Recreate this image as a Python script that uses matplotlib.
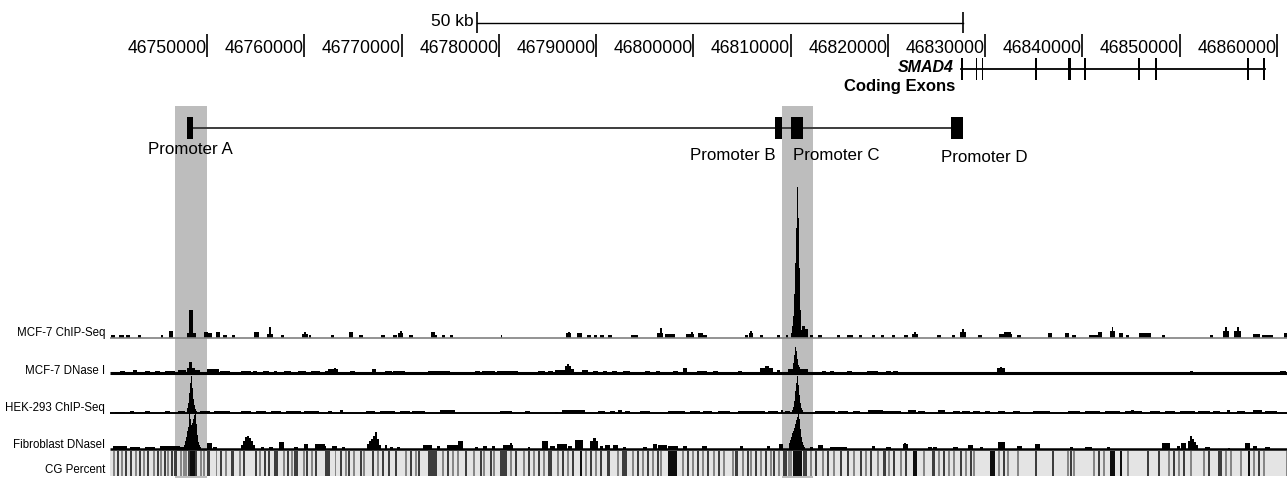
import matplotlib
matplotlib.use('Agg')
import matplotlib.pyplot as plt
from matplotlib.patches import Rectangle

plt.rcParams['font.family'] = ['Liberation Sans', 'DejaVu Sans']

# ---------------- data (positions in kb) ----------------
REGION_START = 46740.0
REGION_END = 46861.03

tick_kb = [46750, 46760, 46770, 46780, 46790, 46800, 46810, 46820, 46830, 46840, 46850, 46860]
tick_labels = ['46750000', '46760000', '46770000', '46780000', '46790000', '46800000',
               '46810000', '46820000', '46830000', '46840000', '46850000', '46860000']

scale_bar_start = 46777.74
scale_bar_length = 50
scale_bar_label = '50 kb'

gene_name = 'SMAD4'
gene_track_label = 'Coding Exons'
exon_starts = [46827.55, 46829.0, 46829.62, 46835.1, 46838.46, 46838.66, 46840.2,
               46845.7, 46847.5, 46856.96, 46858.55]
exon_widths = [0.2, 0.14, 0.14, 0.24, 0.12, 0.12, 0.14, 0.26, 0.14, 0.14, 0.26]

promoter_names = ['Promoter A', 'Promoter B', 'Promoter C', 'Promoter D']
promoter_starts = [46747.92, 46808.38, 46810.03, 46826.48]
promoter_ends = [46748.53, 46809.10, 46811.26, 46827.71]
promoter_label_x = [46748.23, 46804.0, 46814.66, 46829.9]

highlight_regions = [(46746.68, 46749.97), (46809.10, 46812.29)]

track_names = ['MCF-7 ChIP-Seq', 'MCF-7 DNase I', 'HEK-293 ChIP-Seq', 'Fibroblast DNaseI']

# signal tracks: (offset from REGION_START in kb, width in kb, signal height)
mcf7_chip = [
    (0.1, 0.4, 3), (0.93, 0.52, 3), (1.65, 0.41, 3), (2.89, 0.31, 3), (5.27, 0.2, 3), (6.1, 0.41, 7),
    (7.95, 0.93, 5), (8.16, 0.41, 28), (9.71, 0.41, 6), (10.12, 0.41, 5), (10.95, 0.31, 6),
    (11.67, 0.31, 3), (12.5, 0.31, 3), (14.77, 0.52, 6), (16.12, 0.62, 4), (16.33, 0.2, 11),
    (17.56, 0.31, 3), (19.73, 0.62, 4), (19.94, 0.2, 6), (20.51, 0.2, 3), (22.68, 0.31, 3),
    (24.54, 0.41, 6), (25.57, 0.41, 3), (27.85, 0.41, 3), (29.09, 0.41, 3), (29.6, 0.52, 5),
    (29.81, 0.2, 7), (30.74, 0.41, 3), (33.01, 0.41, 6), (33.42, 0.2, 3), (34.15, 0.31, 3),
    (34.97, 0.31, 3), (40.16, 0.2, 3), (46.88, 0.52, 5), (47.07, 0.2, 6), (48.01, 0.52, 5),
    (49.05, 0.41, 3), (49.77, 0.31, 3), (50.39, 0.41, 3), (51.22, 0.41, 3), (53.59, 0.72, 3),
    (56.28, 0.62, 5), (56.57, 0.15, 10), (57.1, 1.03, 4), (59.27, 0.83, 4), (59.77, 0.2, 6),
    (60.42, 0.52, 5), (60.94, 0.41, 3), (65.28, 0.31, 3), (65.68, 0.41, 5), (65.78, 0.2, 7),
    (66.83, 0.31, 3), (68.58, 0.31, 3), (69.51, 0.2, 3),
    (70.03, 0.105, 5), (70.13, 0.105, 12), (70.24, 0.105, 22), (70.34, 0.105, 44),
    (70.44, 0.105, 75), (70.55, 0.105, 110), (70.65, 0.105, 151), (70.75, 0.105, 120),
    (70.86, 0.105, 70), (70.96, 0.105, 28), (71.06, 0.105, 8),
    (71.17, 0.31, 12), (71.48, 0.31, 9), (71.99, 0.31, 3), (72.82, 0.41, 3), (74.78, 0.31, 3),
    (75.82, 0.62, 3), (77.06, 0.31, 3), (78.4, 0.31, 3), (79.33, 0.31, 3), (80.37, 0.31, 3),
    (81.6, 0.41, 3), (82.43, 0.62, 4), (82.63, 0.2, 6), (85.01, 0.41, 3), (86.56, 0.31, 3),
    (87.39, 0.62, 6), (87.58, 0.2, 9), (89.25, 0.41, 3), (91.42, 1.34, 4), (91.98, 0.62, 6),
    (93.28, 0.41, 3), (96.48, 0.41, 5), (98.24, 0.41, 5), (98.96, 0.41, 3), (100.63, 0.93, 3),
    (101.56, 0.41, 6), (102.8, 0.52, 7), (102.99, 0.15, 11), (103.73, 0.41, 5), (104.45, 0.31, 3),
    (105.79, 1.24, 5), (108.17, 0.31, 3), (113.13, 0.31, 3), (114.47, 0.62, 7), (114.69, 0.2, 11),
    (115.61, 0.72, 7), (115.89, 0.2, 11), (117.57, 0.72, 4), (118.5, 1.1, 3), (120.77, 0.3, 5),
]

mcf7_dnase = [
    (1.03, 0.52, 2), (2.38, 0.41, 3), (3.62, 0.52, 2), (4.65, 0.52, 2), (5.68, 1.03, 2),
    (7.02, 0.83, 3), (7.95, 0.83, 5), (8.16, 0.31, 11), (8.78, 0.52, 3), (10.02, 1.14, 4),
    (11.36, 1.03, 2), (13.43, 1.03, 2), (14.67, 0.41, 2), (15.7, 0.62, 2), (16.84, 0.31, 2),
    (17.87, 0.72, 2), (19.32, 0.83, 2), (20.72, 0.83, 2), (22.06, 0.52, 2), (22.37, 1.03, 4),
    (22.99, 0.2, 5), (24.64, 0.52, 2), (26.92, 0.41, 4), (28.26, 0.72, 2), (29.09, 1.24, 2),
    (32.7, 1.24, 2), (33.94, 1.03, 2), (37.56, 0.52, 2), (38.28, 1.34, 2), (39.83, 2.17, 2),
    (43.99, 0.72, 2), (45.02, 0.52, 2), (45.74, 1.03, 3), (46.77, 0.62, 7), (46.98, 0.2, 9),
    (47.4, 0.31, 4), (48.53, 0.62, 3), (49.67, 0.52, 2), (50.7, 0.41, 2), (51.63, 0.52, 2),
    (52.77, 0.72, 2), (55.04, 0.52, 2), (56.18, 0.41, 2), (57.93, 0.52, 2), (58.97, 0.41, 5),
    (60.32, 1.03, 2), (61.98, 0.52, 2), (64.56, 0.41, 2), (66.83, 1.34, 5), (67.35, 0.41, 7),
    (68.58, 0.31, 3), (69.72, 2.07, 4),
    (70.24, 0.105, 10), (70.34, 0.105, 18), (70.44, 0.105, 26), (70.55, 0.105, 22),
    (70.65, 0.105, 14), (70.75, 0.105, 8), (70.86, 0.105, 6),
    (73.24, 0.41, 2), (74.06, 0.41, 2), (75.82, 0.52, 2), (77.88, 1.14, 2), (79.75, 0.52, 2),
    (80.47, 0.52, 2), (91.21, 0.83, 5), (91.52, 0.2, 6), (107.34, 0.2, 1), (111.06, 0.31, 2),
    (111.59, 0.2, 1), (112.49, 0.2, 1), (115.69, 0.2, 1), (116.74, 0.2, 1), (117.69, 0.2, 1),
    (119.74, 0.31, 1), (120.36, 0.52, 2),
]

hek293_chip = [
    (0.52, 1.03, 1), (2.07, 0.4, 2), (3.62, 0.52, 2), (5.68, 0.52, 2), (7.02, 0.72, 2),
    (7.95, 0.105, 5), (8.06, 0.105, 10), (8.16, 0.105, 20), (8.26, 0.105, 30), (8.37, 0.105, 37),
    (8.47, 0.105, 25), (8.57, 0.105, 14), (8.68, 0.105, 8), (8.78, 0.105, 4), (8.88, 0.105, 2),
    (9.3, 1.03, 2), (10.74, 1.65, 2), (13.43, 1.03, 2), (14.98, 1.03, 2), (16.53, 1.03, 2),
    (18.08, 1.55, 2), (19.99, 1.55, 2), (22.37, 0.41, 2), (23.61, 0.3, 3), (26.3, 0.93, 2),
    (27.74, 1.55, 2), (29.81, 1.03, 2), (31.05, 1.34, 2), (33.94, 1.55, 3), (40.06, 1.24, 2),
    (42.64, 0.52, 2), (45.74, 0.3, 1), (46.47, 2.38, 3), (50.18, 0.72, 2), (51.42, 0.52, 2),
    (52.25, 0.41, 3), (52.97, 0.52, 2), (54.52, 1.03, 2), (57.41, 1.76, 2), (59.69, 1.03, 2),
    (60.94, 0.93, 2), (62.49, 1.24, 2), (64.56, 2.79, 2), (67.66, 1.03, 2), (69.0, 0.2, 3),
    (69.41, 0.52, 2),
    (70.13, 0.105, 3), (70.24, 0.105, 6), (70.34, 0.105, 12), (70.44, 0.105, 22), (70.55, 0.105, 30),
    (70.65, 0.105, 37), (70.75, 0.105, 28), (70.86, 0.105, 18), (70.96, 0.105, 10), (71.06, 0.105, 5),
    (71.17, 0.105, 3), (71.27, 0.105, 1),
    (72.51, 2.07, 2), (74.88, 1.03, 2), (76.44, 0.72, 2), (77.99, 1.24, 3), (79.44, 1.86, 2),
    (79.33, 0.2, 3), (82.02, 0.83, 3), (83.05, 0.72, 2), (85.12, 0.72, 3), (86.67, 0.72, 2),
    (87.6, 0.83, 2), (88.74, 0.72, 2), (89.98, 0.52, 2), (91.32, 0.72, 2), (92.87, 0.72, 2),
    (94.93, 1.76, 2), (98.55, 1.24, 2), (100.22, 1.55, 2), (102.28, 1.55, 2), (104.35, 1.76, 2),
    (104.99, 0.3, 3), (106.93, 1.03, 2), (108.48, 1.03, 2), (110.03, 1.55, 2), (111.89, 1.24, 2),
    (113.44, 0.72, 2), (114.89, 0.31, 3), (115.92, 0.83, 2), (117.57, 0.93, 3), (118.81, 1.24, 2),
]

fibroblast_dnase = [
    (0.31, 1.45, 3), (2.07, 1.03, 2), (3.62, 1.03, 2), (5.17, 1.24, 3), (6.4, 0.83, 3), (7.23, 0.41, 2),
    (7.64, 0.105, 4), (7.75, 0.105, 8), (7.85, 0.105, 12), (7.95, 0.105, 18), (8.06, 0.105, 22),
    (8.16, 0.105, 36), (8.26, 0.105, 30), (8.37, 0.105, 24), (8.47, 0.105, 26), (8.57, 0.105, 30),
    (8.68, 0.105, 34), (8.78, 0.105, 36), (8.88, 0.105, 25), (8.99, 0.105, 14), (9.09, 0.105, 7),
    (9.2, 0.105, 4), (9.3, 0.105, 2),
    (10.02, 0.52, 6), (10.64, 0.41, 2),
    (13.43, 0.21, 4), (13.64, 0.21, 8), (13.84, 0.21, 12), (14.05, 0.21, 13), (14.26, 0.21, 11),
    (14.46, 0.21, 8), (14.67, 0.21, 4),
    (15.5, 0.31, 2), (16.32, 0.41, 2), (17.36, 0.52, 7), (18.91, 0.41, 2), (19.94, 0.41, 5),
    (21.03, 1.03, 5), (22.06, 0.2, 3), (22.78, 0.52, 3), (23.82, 0.31, 2),
    (26.4, 0.21, 5), (26.61, 0.21, 8), (26.81, 0.21, 10), (27.02, 0.21, 13), (27.23, 0.21, 17),
    (27.43, 0.21, 10), (27.64, 0.21, 4),
    (28.26, 0.2, 4), (28.78, 0.31, 2), (29.5, 0.31, 2), (32.19, 0.93, 4), (33.63, 0.31, 3),
    (34.67, 1.14, 4), (35.8, 0.52, 8), (37.56, 0.31, 2), (38.38, 0.41, 3), (39.31, 0.31, 3),
    (40.37, 1.03, 4), (41.09, 0.2, 6), (42.95, 0.2, 2), (44.4, 0.62, 8), (45.22, 0.52, 3),
    (45.95, 1.03, 5), (47.08, 0.41, 3), (47.8, 0.83, 9), (49.36, 0.83, 8), (49.67, 0.3, 11),
    (50.39, 0.31, 3), (50.91, 0.52, 4), (51.73, 0.52, 4), (52.77, 0.31, 2), (54.83, 0.41, 2),
    (55.87, 0.41, 5), (56.38, 0.93, 4), (57.41, 1.03, 3), (58.97, 0.41, 3), (60.84, 0.52, 3),
    (64.76, 0.31, 3), (67.55, 0.31, 3), (68.79, 0.41, 5),
    (69.82, 0.105, 6), (69.93, 0.105, 9), (70.03, 0.105, 12), (70.13, 0.105, 16), (70.24, 0.105, 18),
    (70.34, 0.105, 21), (70.44, 0.105, 25), (70.55, 0.105, 29), (70.65, 0.105, 32), (70.75, 0.105, 36),
    (70.86, 0.105, 30), (70.96, 0.105, 20), (71.06, 0.105, 12), (71.17, 0.105, 7), (71.27, 0.105, 4),
    (71.37, 0.105, 2),
    (71.99, 0.31, 2), (72.82, 0.52, 4), (74.06, 1.76, 2), (78.4, 0.31, 3), (79.75, 0.52, 2),
    (81.5, 0.52, 5), (81.65, 0.2, 6), (84.08, 0.41, 2), (84.6, 0.41, 2), (86.67, 0.52, 2),
    (88.22, 0.52, 4), (89.46, 0.31, 2), (91.32, 0.72, 7), (93.28, 0.52, 3), (95.14, 0.52, 5),
    (98.76, 0.31, 2), (100.22, 0.72, 2), (102.49, 0.31, 2), (108.17, 0.83, 6), (109.72, 0.31, 3),
    (110.13, 0.52, 6),
    (110.85, 0.21, 8), (111.06, 0.21, 13), (111.27, 0.21, 10), (111.47, 0.21, 7), (111.68, 0.21, 4),
    (112.61, 0.52, 2), (114.99, 0.2, 1), (116.74, 0.52, 6), (117.57, 0.41, 3), (118.81, 0.52, 2),
]

# CG percent stripes: (offset kb, width kb, darkness 0..1)
cg_stripes = [
    (0.31, 0.2, 0.5), (0.72, 0.2, 0.8), (1.14, 0.2, 0.5), (1.55, 0.2, 0.8), (2.07, 0.2, 0.8),
    (2.58, 0.2, 0.5), (3.0, 0.2, 0.8), (3.41, 0.2, 0.5), (3.82, 0.2, 0.8), (4.44, 0.2, 0.5),
    (4.86, 0.2, 0.8), (5.17, 0.2, 0.5), (5.58, 0.2, 0.8), (5.89, 0.2, 0.5), (6.3, 0.2, 0.8),
    (6.61, 0.31, 0.8), (7.23, 0.2, 0.5), (7.54, 0.41, 0.5), (8.06, 0.93, 0.8), (8.26, 0.52, 1.0),
    (9.3, 0.2, 0.5), (9.61, 0.2, 0.5), (10.02, 0.31, 0.8), (10.85, 0.2, 0.5), (11.36, 0.2, 0.8),
    (11.78, 0.2, 0.5), (12.4, 0.31, 0.8), (13.22, 0.2, 0.5), (13.64, 0.2, 0.8), (14.88, 0.2, 0.8),
    (15.29, 0.2, 0.5), (15.81, 0.2, 0.8), (16.22, 0.2, 0.8), (16.84, 0.41, 0.8), (17.77, 0.2, 0.5),
    (18.18, 0.2, 0.8), (18.6, 0.2, 0.5), (18.91, 0.41, 0.8), (19.84, 0.2, 0.5), (20.2, 0.2, 0.8),
    (20.72, 0.2, 0.5), (21.13, 0.2, 0.8), (22.06, 0.52, 0.8), (23.09, 0.2, 0.5), (23.61, 0.2, 0.8),
    (24.13, 0.2, 0.5), (24.44, 0.2, 0.8), (24.95, 0.2, 0.5), (25.68, 0.2, 0.8), (25.99, 0.2, 0.5),
    (26.92, 0.2, 0.8), (27.43, 0.2, 0.5), (27.95, 0.2, 0.8), (28.57, 0.2, 0.8), (29.29, 0.2, 0.8),
    (30.33, 0.2, 0.5), (30.84, 0.2, 0.8), (31.36, 0.2, 0.5), (31.67, 0.2, 0.8), (32.7, 0.93, 0.8),
    (34.15, 0.2, 0.5), (34.67, 0.2, 0.8), (35.18, 0.2, 0.5), (35.7, 0.2, 0.5), (36.53, 0.2, 0.8),
    (37.35, 0.2, 0.5), (38.07, 0.2, 0.8), (38.38, 0.2, 0.5), (39.11, 0.2, 0.8), (39.42, 0.2, 0.5),
    (40.06, 0.72, 0.8), (41.09, 0.2, 0.5), (41.61, 0.2, 0.8), (42.44, 0.2, 0.5), (42.95, 0.2, 0.8),
    (43.47, 0.2, 0.5), (43.99, 0.2, 0.8), (44.5, 0.2, 0.5), (45.02, 0.41, 0.8), (45.95, 0.2, 0.5),
    (46.47, 0.2, 0.8), (46.98, 0.2, 0.5), (47.5, 0.2, 0.8), (48.33, 0.2, 1.0), (48.84, 0.2, 0.5),
    (49.36, 0.2, 0.8), (49.88, 0.2, 0.5), (50.39, 0.2, 0.8), (51.12, 0.31, 0.8), (52.15, 0.2, 0.5),
    (52.67, 0.52, 0.8), (53.7, 0.2, 0.5), (54.21, 0.2, 0.8), (54.73, 0.2, 0.5), (55.25, 0.2, 0.8),
    (55.76, 0.2, 0.5), (56.28, 0.2, 0.8), (56.59, 0.2, 0.5), (57.41, 0.93, 1.0), (58.86, 0.2, 0.5),
    (59.38, 0.2, 0.8), (59.81, 0.2, 0.5), (60.32, 0.2, 0.8), (60.84, 0.2, 0.5), (61.36, 0.2, 0.8),
    (61.98, 0.2, 0.5), (62.49, 0.2, 0.8), (63.01, 0.2, 0.5), (63.94, 0.2, 0.5), (64.25, 0.31, 0.8),
    (64.97, 0.2, 0.5), (65.49, 0.2, 0.8), (65.8, 0.2, 0.5), (66.31, 0.2, 0.8), (66.83, 0.2, 0.5),
    (67.35, 0.2, 0.8), (67.86, 0.2, 0.5), (68.17, 0.2, 0.8), (68.69, 0.2, 0.5), (69.21, 0.41, 0.8),
    (69.72, 0.41, 0.5), (70.24, 0.93, 1.0), (71.28, 0.41, 0.8), (72.0, 0.2, 0.5), (72.51, 0.2, 0.8),
    (73.24, 0.2, 0.5), (73.75, 0.2, 0.8), (74.37, 0.2, 0.5), (75.1, 0.2, 0.8), (75.82, 0.2, 0.8),
    (76.44, 0.2, 0.5), (77.16, 0.2, 0.8), (77.68, 0.2, 0.5), (78.2, 0.2, 0.8), (78.92, 0.2, 0.5),
    (79.44, 0.31, 0.8), (79.96, 0.2, 0.5), (80.47, 0.2, 0.8), (81.19, 0.2, 0.5), (81.71, 0.2, 0.8),
    (82.54, 0.41, 1.0), (83.57, 0.2, 0.5), (84.5, 0.31, 0.8), (85.12, 0.2, 0.5), (85.64, 0.2, 0.8),
    (86.15, 0.2, 0.5), (86.67, 0.2, 0.5), (87.39, 0.2, 0.8), (87.91, 0.2, 0.5), (88.43, 0.2, 0.8),
    (88.74, 0.2, 0.5), (90.49, 0.52, 1.0), (91.32, 0.2, 0.5), (91.84, 0.2, 0.8), (92.25, 0.2, 0.5),
    (93.28, 0.2, 0.5), (95.14, 0.2, 0.8), (96.9, 0.2, 0.8), (98.45, 0.2, 0.5), (98.76, 0.2, 0.8),
    (99.07, 0.2, 0.5), (101.04, 0.2, 0.5), (101.56, 0.2, 0.8), (102.08, 0.2, 0.5), (102.8, 0.52, 1.0),
    (103.83, 0.2, 1.0), (104.55, 0.2, 0.5), (106.62, 0.2, 0.8), (107.76, 0.2, 0.8), (108.79, 0.2, 0.5),
    (109.31, 0.2, 0.8), (109.83, 0.2, 0.5), (110.34, 0.2, 0.8), (111.06, 0.2, 0.5), (112.41, 0.2, 0.5),
    (112.92, 0.2, 0.8), (113.96, 0.41, 0.8), (114.68, 0.2, 0.5), (115.2, 0.2, 0.5), (116.23, 0.2, 0.5),
    (117.06, 0.15, 1.0), (117.57, 0.2, 0.5), (118.09, 0.2, 0.8), (118.61, 0.2, 0.5), (120.88, 0.2, 0.5),
]
cg_label = 'CG Percent'

# ---------------- layout ----------------
W, H = 1287, 478
PX_PER_KB = 9.725
LEFT_PX = 110
fig = plt.figure(figsize=(W / 100, H / 100), dpi=100)
xlim = (REGION_START - LEFT_PX / PX_PER_KB, REGION_END)

ax = fig.add_axes([0, 0, 1, 1])
ax.set_xlim(*xlim)
ax.set_ylim(H, 0)
ax.axis('off')

# highlight bands
for x0, x1 in highlight_regions:
    ax.add_patch(Rectangle((x0, 106), x1 - x0, H - 106, facecolor='#bdbdbd',
                           edgecolor='none', zorder=0))

# scale bar
sb_y = 22.5
ax.plot([scale_bar_start, scale_bar_start + scale_bar_length], [sb_y, sb_y], color='black', lw=1.0)
ax.vlines([scale_bar_start, scale_bar_start + scale_bar_length], 12, 33, color='black', lw=1.2)
ax.text(scale_bar_start - 0.3, sb_y - 1, scale_bar_label, ha='right', va='center', fontsize=12.5)

# genomic coordinate ticks
ax.vlines(tick_kb, 34, 57, color='black', lw=1.2)
for t, lab in zip(tick_kb, tick_labels):
    ax.text(t - 0.08, 48, lab, ha='right', va='center', fontsize=12.7)

# SMAD4 coding exons
gene_y = 68.5
ax.plot([exon_starts[0], exon_starts[-1] + exon_widths[-1]], [gene_y, gene_y], color='black', lw=1.3)
for s, w in zip(exon_starts, exon_widths):
    ax.add_patch(Rectangle((s, 58), w, 22, facecolor='black', edgecolor='none'))
ax.text(46826.75, 67, gene_name, ha='right', va='center', fontsize=11.5,
        fontweight='bold', fontstyle='italic')
ax.text(46826.9, 86, gene_track_label, ha='right', va='center', fontsize=12, fontweight='bold')

# promoter track
prom_y = 128
ax.plot([promoter_ends[0], promoter_starts[-1]], [prom_y, prom_y], color='#3c3c3c', lw=1.4, zorder=2)
for s, e in zip(promoter_starts, promoter_ends):
    ax.add_patch(Rectangle((s, 117), e - s, 22, facecolor='black', edgecolor='none', zorder=3))
prom_label_y = [149, 156, 156, 157]
for name, lx, ly in zip(promoter_names, promoter_label_x, prom_label_y):
    ax.text(lx, ly, name, ha='center', va='center', fontsize=12.2, zorder=4)

# signal tracks
track_data = [mcf7_chip, mcf7_dnase, hek293_chip, fibroblast_dnase]
baselines = [338, 373, 413, 449]
track_heights = [160, 40, 45, 45]
base_colors = ['#808080', 'black', 'black', 'black']
base_lw = [1.2, 2.2, 1.4, 1.8]
label_y = [333, 371, 408.5, 445]
for data, base, th, bc, blw in zip(track_data, baselines, track_heights, base_colors, base_lw):
    tax = fig.add_axes([0, (H - base) / H, 1, th / H])
    tax.set_xlim(*xlim)
    tax.set_ylim(0, th)
    tax.axis('off')
    tax.patch.set_alpha(0)
    tax.plot([REGION_START, REGION_END], [0, 0], color=bc, lw=blw, solid_capstyle='butt',
             clip_on=False)
    tax.bar([REGION_START + d[0] for d in data], [d[2] for d in data],
            width=[d[1] for d in data], align='edge', color='black', linewidth=0, clip_on=False)
for name, ly in zip(track_names, label_y):
    ax.text(REGION_START - 0.5, ly, name, ha='right', va='center', fontsize=8.3)

# CG percent band
cax = fig.add_axes([0, (H - 476) / H, 1, 25 / H])
cax.set_xlim(*xlim)
cax.set_ylim(0, 1)
cax.axis('off')
cax.patch.set_alpha(0)
cax.add_patch(Rectangle((REGION_START, 0), REGION_END - REGION_START, 1,
                        facecolor='#e4e4e4', edgecolor='none'))
cax.bar([REGION_START + s[0] for s in cg_stripes], [1] * len(cg_stripes),
        width=[s[1] for s in cg_stripes], align='edge', linewidth=0,
        color=[str(round(1 - 0.95 * s[2], 3)) for s in cg_stripes])
ax.text(REGION_START - 0.5, 470, cg_label, ha='right', va='center', fontsize=8.3)

fig.savefig('out.png', dpi=100)
